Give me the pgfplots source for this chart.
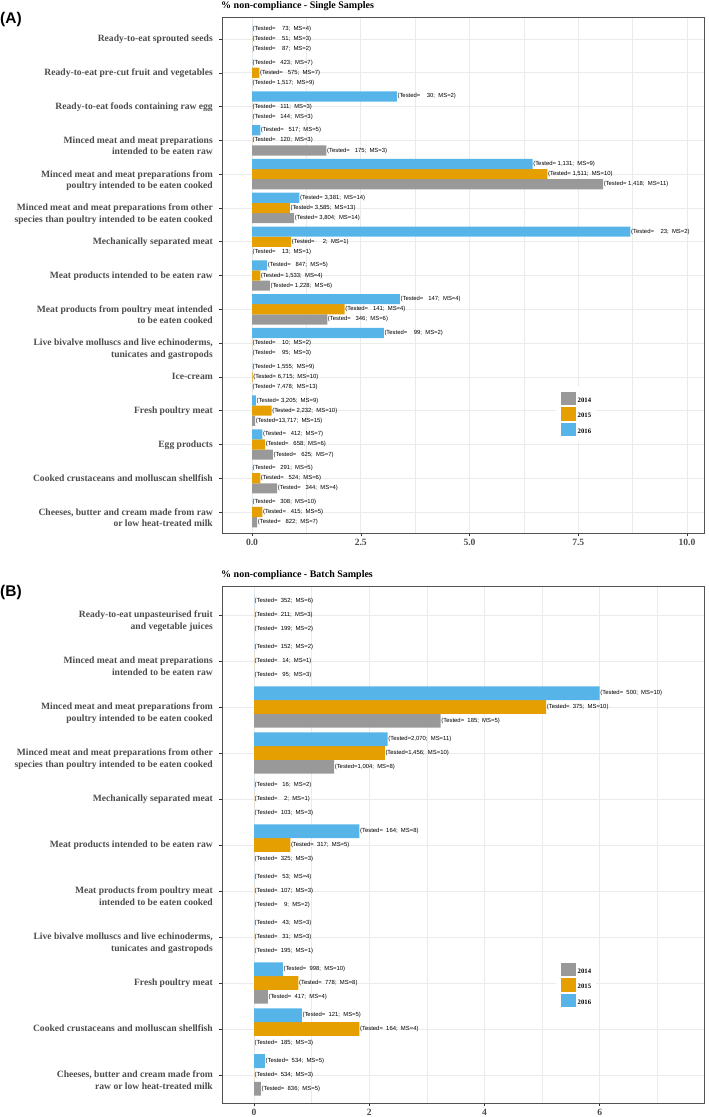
\documentclass[border=0pt]{standalone}
\usepackage{fontspec}
\setmainfont{Liberation Serif}
\newfontfamily\lab{Liberation Sans}
\usepackage{pgfplots}
\pgfplotsset{compat=1.18}
\definecolor{cGrey}{HTML}{999999}
\definecolor{cOrange}{HTML}{E69F00}
\definecolor{cBlue}{HTML}{56B4E9}
\definecolor{g30}{HTML}{4D4D4D}
\definecolor{g20}{HTML}{333333}
\definecolor{g92}{HTML}{EBEBEB}
\newcommand\T[2]{(Tested=#1;\ \ MS=#2)}
\newcommand\defl[3]{\expandafter\def\csname L#1\endcsname{\T{#2}{#3}}}
% Panel A labels: A<year digit>c<category>
\defl{A4c1}{\ \ \ \ 87}{2}   \defl{A5c1}{\ \ \ \ 51}{3}   \defl{A6c1}{\ \ \ \ 73}{4}
\defl{A4c2}{\ 1,517}{9}      \defl{A5c2}{\ \ \ 575}{7}    \defl{A6c2}{\ \ \ 423}{7}
\defl{A4c3}{\ \ \ 144}{3}    \defl{A5c3}{\ \ \ 111}{3}    \defl{A6c3}{\ \ \ \ 30}{2}
\defl{A4c4}{\ \ \ 175}{3}    \defl{A5c4}{\ \ \ 120}{3}    \defl{A6c4}{\ \ \ 517}{5}
\defl{A4c5}{\ 1,418}{11}     \defl{A5c5}{\ 1,511}{10}     \defl{A6c5}{\ 1,131}{9}
\defl{A4c6}{\ 3,804}{14}     \defl{A5c6}{\ 3,585}{13}     \defl{A6c6}{\ 3,381}{14}
\defl{A4c7}{\ \ \ \ 13}{1}   \defl{A5c7}{\ \ \ \ \ 2}{1}  \defl{A6c7}{\ \ \ \ 23}{2}
\defl{A4c8}{\ 1,228}{6}      \defl{A5c8}{\ 1,533}{4}      \defl{A6c8}{\ \ \ 847}{5}
\defl{A4c9}{\ \ \ 346}{6}    \defl{A5c9}{\ \ \ 141}{4}    \defl{A6c9}{\ \ \ 147}{4}
\defl{A4c10}{\ \ \ \ 95}{3}  \defl{A5c10}{\ \ \ \ 10}{2}  \defl{A6c10}{\ \ \ \ 99}{2}
\defl{A4c11}{\ 7,478}{13}    \defl{A5c11}{\ 6,715}{10}    \defl{A6c11}{\ 1,555}{9}
\defl{A4c12}{13,717}{15}     \defl{A5c12}{\ 2,232}{10}    \defl{A6c12}{\ 3,205}{9}
\defl{A4c13}{\ \ \ 625}{7}   \defl{A5c13}{\ \ \ 658}{6}   \defl{A6c13}{\ \ \ 412}{7}
\defl{A4c14}{\ \ \ 344}{4}   \defl{A5c14}{\ \ \ 524}{6}   \defl{A6c14}{\ \ \ 291}{5}
\defl{A4c15}{\ \ \ 822}{7}   \defl{A5c15}{\ \ \ 415}{5}   \defl{A6c15}{\ \ \ 308}{10}
% Panel B labels
\defl{B4c1}{\ \ 199}{2}      \defl{B5c1}{\ \ 211}{3}      \defl{B6c1}{\ \ 352}{6}
\defl{B4c2}{\ \ \ 95}{3}     \defl{B5c2}{\ \ \ 14}{1}     \defl{B6c2}{\ \ 152}{2}
\defl{B4c3}{\ \ 185}{5}      \defl{B5c3}{\ \ 375}{10}     \defl{B6c3}{\ \ 500}{10}
\defl{B4c4}{1,004}{8}        \defl{B5c4}{1,456}{10}       \defl{B6c4}{2,070}{11}
\defl{B4c5}{\ \ 103}{3}      \defl{B5c5}{\ \ \ \ 2}{1}    \defl{B6c5}{\ \ \ 16}{2}
\defl{B4c6}{\ \ 325}{3}      \defl{B5c6}{\ \ 317}{5}      \defl{B6c6}{\ \ 164}{8}
\defl{B4c7}{\ \ \ \ 9}{2}    \defl{B5c7}{\ \ 107}{3}      \defl{B6c7}{\ \ \ 53}{4}
\defl{B4c8}{\ \ 195}{1}      \defl{B5c8}{\ \ \ 31}{3}     \defl{B6c8}{\ \ \ 43}{3}
\defl{B4c9}{\ \ 417}{4}      \defl{B5c9}{\ \ 778}{8}      \defl{B6c9}{\ \ 998}{10}
\defl{B4c10}{\ \ 185}{3}     \defl{B5c10}{\ \ 164}{4}     \defl{B6c10}{\ \ 121}{5}
\defl{B4c11}{\ \ 836}{5}     \defl{B5c11}{\ \ 534}{3}     \defl{B6c11}{\ \ 534}{5}
\pgfplotsset{
  myaxis/.style={
    scale only axis, width=482pt,
    y dir=reverse,
    axis line style={draw=g20!85, line width=0.8pt},
    tick align=outside, major tick length=3pt, minor tick length=0pt,
    tick style={g20, line width=0.5pt},
    xtick pos=bottom, ytick pos=left,
    grid=both,
    major grid style={g92, line width=0.7pt},
    minor grid style={g92, line width=0.4pt},
    yticklabel style={font=\bfseries\fontsize{9.6}{11.5}\selectfont, text=g30, align=right, anchor=north east, yshift=4pt, inner sep=0pt, xshift=-6pt},
    xticklabel style={font=\bfseries\fontsize{9.6}{11.5}\selectfont, text=g30},
    /pgf/number format/assume math mode=true,
    point meta=explicit symbolic,
    nodes near coords={\csname L\pgfplotspointmeta\endcsname},
    every node near coord/.append style={anchor=west, inner sep=0.5pt, font=\lab\fontsize{5.9}{6}\selectfont, text=black},
    legend cell align=left,
    legend style={anchor=north west, draw=none, fill=white,
      inner xsep=5pt, inner ysep=6pt, row sep=2pt,
      font=\bfseries\fontsize{6.7}{8}\selectfont, nodes={inner sep=0pt}, /tikz/column sep=2pt},
  },
  mybar/.style={xbar, bar width=0.3, bar shift=0pt, draw=none, fill=#1,
    legend image code/.code={\fill[fill=#1] (0pt,-4.5pt) rectangle (14.5pt,9pt);}},
}
\begin{document}
\begin{tikzpicture}
\useasboundingbox (0,0) rectangle (709pt,1117pt);
% ---------------- Panel A ----------------
\begin{axis}[myaxis, at={(222pt,584pt)}, anchor=south west, height=515.5pt,
  xmin=-0.69, xmax=10.39, ymin=0.364, ymax=15.62,
  xtick={0,2.5,5,7.5,10}, xticklabels={0.0,2.5,5.0,7.5,10.0},
  minor xtick={1.25,3.75,6.25,8.75},
  ytick={1,...,15},
  yticklabels={Ready-to-eat sprouted seeds,
    Ready-to-eat pre-cut fruit and vegetables,
    Ready-to-eat foods containing raw egg,
    {Minced meat and meat preparations\\intended to be eaten raw},
    {Minced meat and meat preparations from\\poultry intended to be eaten cooked},
    {Minced meat and meat preparations from other\\species than poultry intended to be eaten cooked},
    Mechanically separated meat,
    Meat products intended to be eaten raw,
    {Meat products from poultry meat intended\\to be eaten cooked},
    {Live bivalve molluscs and live echinoderms,\\tunicates and gastropods},
    Ice-cream,
    Fresh poultry meat,
    Egg products,
    Cooked crustaceans and molluscan shellfish,
    {Cheeses, butter and cream made from raw\\or low heat-treated milk}},
  legend style={at={(0.693,0.286)}},
]
\addplot[mybar=cGrey] coordinates {
 (0,1.3) [A4c1] (0,2.3) [A4c2] (0,3.3) [A4c3] (1.71,4.3) [A4c4]
 (8.07,5.3) [A4c5] (0.97,6.3) [A4c6] (0,7.3) [A4c7] (0.41,8.3) [A4c8]
 (1.73,9.3) [A4c9] (0,10.3) [A4c10] (0,11.3) [A4c11] (0.07,12.3) [A4c12]
 (0.48,13.3) [A4c13] (0.58,14.3) [A4c14] (0.12,15.3) [A4c15]
};
\addlegendentry{2014}
\addplot[mybar=cOrange] coordinates {
 (0,1) [A5c1] (0.17,2) [A5c2] (0,3) [A5c3] (0,4) [A5c4]
 (6.79,5) [A5c5] (0.87,6) [A5c6] (0.9,7) [A5c7] (0.19,8) [A5c8]
 (2.13,9) [A5c9] (0,10) [A5c10] (0.015,11) [A5c11] (0.45,12) [A5c12]
 (0.30,13) [A5c13] (0.19,14) [A5c14] (0.24,15) [A5c15]
};
\addlegendentry{2015}
\addplot[mybar=cBlue] coordinates {
 (0,0.7) [A6c1] (0,1.7) [A6c2] (3.33,2.7) [A6c3] (0.19,3.7) [A6c4]
 (6.45,4.7) [A6c5] (1.09,5.7) [A6c6] (8.70,6.7) [A6c7] (0.35,7.7) [A6c8]
 (3.40,8.7) [A6c9] (3.03,9.7) [A6c10] (0,10.7) [A6c11] (0.09,11.7) [A6c12]
 (0.24,12.7) [A6c13] (0,13.7) [A6c14] (0,14.7) [A6c15]
};
\addlegendentry{2016}
\end{axis}
% ---------------- Panel B ----------------
\begin{axis}[myaxis, at={(222pt,14pt)}, anchor=south west, height=517pt,
  xmin=-0.556, xmax=7.81, ymin=0.37, ymax=11.61,
  xtick={0,2,4,6}, xticklabels={0,2,4,6},
  minor xtick={1,3,5,7},
  ytick={1,...,11},
  yticklabels={{Ready-to-eat unpasteurised fruit\\and vegetable juices},
    {Minced meat and meat preparations\\intended to be eaten raw},
    {Minced meat and meat preparations from\\poultry intended to be eaten cooked},
    {Minced meat and meat preparations from other\\species than poultry intended to be eaten cooked},
    Mechanically separated meat,
    Meat products intended to be eaten raw,
    {Meat products from poultry meat\\intended to be eaten cooked},
    {Live bivalve molluscs and live echinoderms,\\tunicates and gastropods},
    Fresh poultry meat,
    Cooked crustaceans and molluscan shellfish,
    {Cheeses, butter and cream made from\\raw or low heat-treated milk}},
  legend style={at={(0.693,0.2835)}},
]
\addplot[mybar=cGrey] coordinates {
 (0,1.3) [B4c1] (0,2.3) [B4c2] (3.24,3.3) [B4c3] (1.39,4.3) [B4c4]
 (0,5.3) [B4c5] (0,6.3) [B4c6] (0,7.3) [B4c7] (0,8.3) [B4c8]
 (0.24,9.3) [B4c9] (0,10.3) [B4c10] (0.12,11.3) [B4c11]
};
\addlegendentry{2014}
\addplot[mybar=cOrange] coordinates {
 (0,1) [B5c1] (0,2) [B5c2] (5.07,3) [B5c3] (2.27,4) [B5c4]
 (0,5) [B5c5] (0.63,6) [B5c6] (0,7) [B5c7] (0,8) [B5c8]
 (0.77,9) [B5c9] (1.83,10) [B5c10] (0,11) [B5c11]
};
\addlegendentry{2015}
\addplot[mybar=cBlue] coordinates {
 (0,0.7) [B6c1] (0,1.7) [B6c2] (6.00,2.7) [B6c3] (2.32,3.7) [B6c4]
 (0,4.7) [B6c5] (1.83,5.7) [B6c6] (0,6.7) [B6c7] (0,7.7) [B6c8]
 (0.50,8.7) [B6c9] (0.83,9.7) [B6c10] (0.19,10.7) [B6c11]
};
\addlegendentry{2016}
\end{axis}
% titles and panel labels
\node[anchor=west, inner sep=0pt, font=\bfseries\fontsize{10}{12}\selectfont] at (221pt,1110.5pt) {\% non-compliance - Single Samples};
\node[anchor=west, inner sep=0pt, font=\bfseries\fontsize{10}{12}\selectfont] at (221pt,542pt) {\% non-compliance - Batch Samples};
\node[anchor=west, inner sep=0pt, font=\lab\bfseries\fontsize{15.5}{18}\selectfont] at (0pt,1097pt) {(A)};
\node[anchor=west, inner sep=0pt, font=\lab\bfseries\fontsize{15.5}{18}\selectfont] at (0pt,525pt) {(B)};
\end{tikzpicture}
\end{document}
